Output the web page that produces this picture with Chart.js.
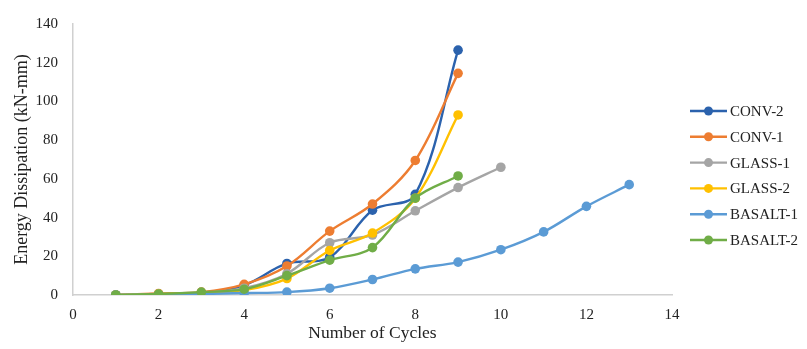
<!DOCTYPE html>
<html>
<head>
<meta charset="utf-8">
<style>
  html, body { margin: 0; padding: 0; background: #fff; }
  #wrap { width: 807px; height: 349px; }
</style>
<script src="https://cdn.jsdelivr.net/npm/chart.js@4/dist/chart.umd.min.js"></script>
</head>
<body>
<div id="wrap"><canvas id="energyChart" width="807" height="349"></canvas></div>
<script>
const seriesNames = ['CONV-2', 'CONV-1', 'GLASS-1', 'GLASS-2', 'BASALT-1', 'BASALT-2'];
const seriesColors = ['#2B62AD', '#ED7D31', '#A5A5A5', '#FFC000', '#5B9BD5', '#70AD47'];

const conv2 = [0, 0.5, 1, 5, 16.3, 19.5, 43.8, 52, 126.5];
const conv1 = [0, 0.8, 1.5, 5.5, 15, 33, 47, 69.5, 114.5];
const glass1 = [0, 0.5, 1, 3.5, 11, 27, 31, 43.5, 55.5, 66];
const glass2 = [0, 0.5, 1, 2.5, 8.5, 23, 32, 50, 93];
const basalt1 = [0, 0.2, 0.5, 1, 1.5, 3.5, 8, 13.5, 17, 23.4, 32.6, 45.8, 57];
const basalt2 = [0, 0.5, 1.5, 3, 10, 18, 24.5, 50, 61.5];

const xTicks = [0, 2, 4, 6, 8, 10, 12, 14];
const yTicks = [0, 20, 40, 60, 80, 100, 120, 140];

const allValues = [conv2, conv1, glass1, glass2, basalt1, basalt2];
const serif = '"Liberation Serif", "DejaVu Serif", serif';

// cycles start at 1
function toPoints(vals) {
    return vals.map((v, i) => ({ x: i + 1, y: v }));
}

const datasets = allValues.map((vals, i) => ({
    label: seriesNames[i],
    data: toPoints(vals),
    borderColor: seriesColors[i],
    backgroundColor: seriesColors[i],
    borderWidth: 2.4,
    pointRadius: 4.8,
    pointHoverRadius: 4.8,
    pointBorderWidth: 0,
    tension: 0.35,
    order: seriesNames.length - i
}));

// Excel-style legend: short line with a marker, then the name
const sideLegend = {
    id: 'sideLegend',
    afterDraw(chart) {
        const ctx = chart.ctx;
        ctx.save();
        ctx.font = '15px ' + serif;
        ctx.textBaseline = 'middle';
        seriesNames.forEach((name, i) => {
            const y = 111 + i * 25.8;
            ctx.strokeStyle = seriesColors[i];
            ctx.lineWidth = 2.4;
            ctx.beginPath();
            ctx.moveTo(690, y);
            ctx.lineTo(727, y);
            ctx.stroke();
            ctx.fillStyle = seriesColors[i];
            ctx.beginPath();
            ctx.arc(708.5, y, 4.5, 0, Math.PI * 2);
            ctx.fill();
            ctx.fillStyle = '#222';
            ctx.fillText(name, 730, y + 1);
        });
        ctx.restore();
    }
};

const canvas = document.getElementById('energyChart');
new Chart(canvas.getContext('2d'), {
    type: 'line',
    data: { datasets: datasets },
    options: {
        responsive: false,
        animation: false,
        layout: { padding: { left: 0, right: 135, top: 20, bottom: 0 } },
        plugins: {
            legend: { display: false },
            tooltip: { enabled: false }
        },
        scales: {
            x: {
                type: 'linear',
                min: 0,
                max: 14,
                afterBuildTicks: axis => { axis.ticks = xTicks.map(v => ({ value: v })); },
                afterFit: axis => { axis.height = 54; },
                grid: { display: false, drawTicks: false },
                border: { color: '#d0d0d0', width: 1.5 },
                ticks: { color: '#222', font: { family: serif, size: 15 }, padding: 11, maxRotation: 0 },
                title: {
                    display: true,
                    text: 'Number of Cycles',
                    color: '#222',
                    font: { family: serif, size: 17.5 },
                    padding: { top: 0, bottom: 5.5 }
                }
            },
            y: {
                min: 0,
                max: 140,
                afterBuildTicks: axis => { axis.ticks = yTicks.map(v => ({ value: v })); },
                afterFit: axis => { axis.width = 73; },
                grid: { display: false, drawTicks: false },
                border: { color: '#d0d0d0', width: 1.5 },
                ticks: { color: '#222', font: { family: serif, size: 15 }, padding: 15 },
                title: {
                    display: true,
                    text: 'Energy Dissipation (kN-mm)',
                    color: '#222',
                    font: { family: serif, size: 18 },
                    padding: { top: 11, bottom: 0 }
                }
            }
        }
    },
    plugins: [sideLegend]
});
</script>
</body>
</html>
